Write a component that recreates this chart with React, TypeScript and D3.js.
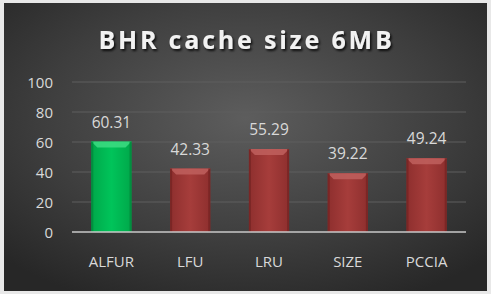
import React from "react";
import * as d3 from "d3";

const categories = ["ALFUR", "LFU", "LRU", "SIZE", "PCCIA"];
const values = [60.31, 42.33, 55.29, 39.22, 49.24];
const valueLabels = ["60.31", "42.33", "55.29", "39.22", "49.24"];
const yTicks = [0, 20, 40, 60, 80, 100];
const highlight = ["ALFUR"];
const title = "BHR cache size 6MB";

const W = 491;
const H = 294;

export default function App() {
  const x = d3.scaleBand<string>().domain(categories).range([72, 466]).paddingInner(0.49).paddingOuter(0.245);
  const y = d3.scaleLinear().domain([0, 100]).range([232, 82]);
  const bw = x.bandwidth();
  const font = "'Open Sans', 'DejaVu Sans', sans-serif";
  return (
    <svg width={W} height={H} style={{ position: "absolute", left: 0, top: 0 }}>
      <defs>
        <radialGradient id="bg" cx="0.5" cy="0.4" r="0.7">
          <stop offset="0" stopColor="#5d5d5d" />
          <stop offset="0.6" stopColor="#3e3e3e" />
          <stop offset="1" stopColor="#272727" />
        </radialGradient>
        <linearGradient id="gGreen" x1="0" x2="1" y1="0" y2="0">
          <stop offset="0" stopColor="#00a84a" />
          <stop offset="0.5" stopColor="#00c45a" />
          <stop offset="1" stopColor="#00a84a" />
        </linearGradient>
        <linearGradient id="gRed" x1="0" x2="1" y1="0" y2="0">
          <stop offset="0" stopColor="#8e2f2e" />
          <stop offset="0.5" stopColor="#a63d3b" />
          <stop offset="1" stopColor="#8e2f2e" />
        </linearGradient>
        <filter id="ts" x="-10%" y="-30%" width="120%" height="160%">
          <feDropShadow dx="1.5" dy="2" stdDeviation="1.2" floodColor="#000" floodOpacity="0.8" />
        </filter>
      </defs>
      <rect x={0} y={0} width={W} height={H} fill="#e8e8e8" />
      <rect x={4} y={3} width={483} height={288} fill="url(#bg)" />
      <text x={246.5} y={48.5} textAnchor="middle" fill="#f2f2f2" fontFamily={font} fontWeight="bold" fontSize={25} letterSpacing={2.8} filter="url(#ts)">
        {title}
      </text>
      {yTicks.map((t) => (
        <g key={t}>
          {t > 0 && <line x1={72} x2={466} y1={y(t)} y2={y(t)} stroke="#5e5e5e" strokeWidth={1} />}
          <text x={53} y={y(t) + 5.5} textAnchor="end" fill="#d9d9d9" fontFamily={font} fontSize={15}>
            {t}
          </text>
        </g>
      ))}
      {categories.map((c, i) => {
        const x0 = x(c)!;
        const y0 = y(values[i]);
        const h = y(0) - y0;
        const green = highlight.includes(c);
        const bev = 6;
        return (
          <g key={c}>
            <rect x={x0} y={y0} width={bw} height={h} fill={green ? "url(#gGreen)" : "url(#gRed)"} />
            <polygon
              points={`${x0},${y0} ${x0 + bw},${y0} ${x0 + bw - bev},${y0 + bev} ${x0 + bev},${y0 + bev}`}
              fill={green ? "#3ddc82" : "#c0605e"}
              opacity={0.85}
            />
            <rect x={x0} y={y0} width={2} height={h} fill={green ? "#008a3c" : "#762423"} opacity={0.8} />
            <rect x={x0 + bw - 2} y={y0} width={2} height={h} fill={green ? "#008a3c" : "#762423"} opacity={0.8} />
            <text x={x0 + bw / 2} y={y0 - 14} textAnchor="middle" fill="#d9d9d9" fontFamily={font} fontSize={15.5}>
              {valueLabels[i]}
            </text>
            <text x={x0 + bw / 2} y={267} textAnchor="middle" fill="#d9d9d9" fontFamily={font} fontSize={15}>
              {c}
            </text>
          </g>
        );
      })}
      <line x1={72} x2={466} y1={y(0)} y2={y(0)} stroke="#c8c8c8" strokeWidth={1.5} />
    </svg>
  );
}
